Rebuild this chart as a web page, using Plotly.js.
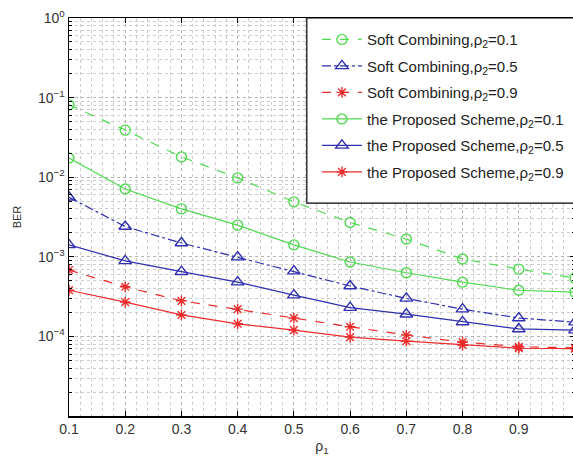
<!DOCTYPE html>
<html>
<head>
<meta charset="utf-8">
<script src="https://cdn.plot.ly/plotly-3.0.1.min.js"></script>
<style>
html,body{margin:0;padding:0;overflow:hidden;background:#fff;width:573px;height:462px;}
#chart{width:578px;height:462px;}
</style>
</head>
<body>
<div id="chart"></div>
<script>
const rho1 = [0.1, 0.2, 0.3, 0.4, 0.5, 0.6, 0.7, 0.8, 0.9, 1.0];
const softRho01 = [0.081, 0.039, 0.018, 0.0098, 0.0049, 0.0027, 0.00167, 0.00094, 0.00070, 0.00054];
const softRho05 = [0.0056, 0.0024, 0.00149, 0.00099, 0.00066, 0.00043, 0.00030, 0.00022, 0.00017, 0.000151];
const softRho09 = [0.00068, 0.00042, 0.00028, 0.00022, 0.000170, 0.000132, 0.000104, 0.000085, 0.000074, 0.000072];
const propRho01 = [0.0174, 0.0071, 0.0040, 0.0025, 0.00141, 0.00086, 0.00063, 0.00048, 0.00038, 0.00036];
const propRho05 = [0.00141, 0.00089, 0.00065, 0.00048, 0.00033, 0.00023, 0.00019, 0.000152, 0.000124, 0.000120];
const propRho09 = [0.00038, 0.00027, 0.000186, 0.000144, 0.000120, 0.000098, 0.000087, 0.000078, 0.000071, 0.000070];
const seriesNames = [
  'Soft Combining,ρ<sub>2</sub>=0.1',
  'Soft Combining,ρ<sub>2</sub>=0.5',
  'Soft Combining,ρ<sub>2</sub>=0.9',
  'the Proposed Scheme,ρ<sub>2</sub>=0.1',
  'the Proposed Scheme,ρ<sub>2</sub>=0.5',
  'the Proposed Scheme,ρ<sub>2</sub>=0.9'
];
const yTickVals = [1e-5, 1e-4, 1e-3, 1e-2, 1e-1, 1];
const yTickText = ['', '10<sup>−4</sup>', '10<sup>−3</sup>', '10<sup>−2</sup>', '10<sup>−1</sup>', '10<sup>0</sup>'];

const GREEN = '#4fd94f', BLUE = '#2f2fb0', RED = '#ee2b2b';
const ys = [softRho01, softRho05, softRho09, propRho01, propRho05, propRho09];
const colors = [GREEN, BLUE, RED, GREEN, BLUE, RED];
const dashes = ['dash', 'dashdot', 'dash', 'solid', 'solid', 'solid'];
const symbols = ['circle-open', 'triangle-up-open', 'asterisk-open', 'circle-open', 'triangle-up-open', 'asterisk-open'];
const sizes = [10, 11, 9, 10, 11, 9];

const traces = ys.map((y, i) => ({
  x: rho1, y: y, type: 'scatter', mode: 'lines+markers',
  name: seriesNames[i], legendgroup: 'g' + i,
  line: {color: colors[i], width: 1.2, dash: dashes[i]},
  marker: {symbol: symbols[i], size: sizes[i], color: colors[i], line: {color: colors[i], width: 1.4}}
}));

const layout = {
  width: 578, height: 462,
  margin: {l: 69, r: 3, t: 18, b: 46},
  paper_bgcolor: '#fff', plot_bgcolor: '#fff',
  font: {family: 'Liberation Sans, Arial, sans-serif', color: '#333'},
  showlegend: true,
  legend: {
    x: 0.49, xanchor: 'left', y: 0.987, yanchor: 'top',
    borderwidth: 0, bgcolor: 'rgba(0,0,0,0)',
    font: {size: 15, color: '#222'}, tracegroupgap: 4, itemwidth: 40
  },
  shapes: [{
    type: 'rect', xref: 'paper', yref: 'paper', layer: 'above',
    x0: 0.470, x1: 1.004, y0: 0.535, y1: 1.0,
    line: {color: '#000', width: 1.2}, fillcolor: '#fff'
  }],
  xaxis: {
    range: [0.1, 1.0], dtick: 0.1, tick0: 0.1,
    showline: true, linecolor: '#000', linewidth: 1.5, mirror: 'ticks',
    ticks: 'inside', ticklen: 5, tickcolor: '#000',
    showgrid: true, gridcolor: '#b4b4b4', griddash: 'dot', gridwidth: 1,
    tickfont: {size: 14, color: '#333'},
    zeroline: false,
    minor: {dtick: 0.02, showgrid: true, gridcolor: '#cdcdcd', griddash: 'dot', gridwidth: 1},
    title: {text: 'ρ<sub>1</sub>', font: {size: 14, color: '#333'}, standoff: 5}
  },
  yaxis: {
    type: 'log', range: [-5, 0],
    tickvals: yTickVals, ticktext: yTickText,
    showline: true, linecolor: '#000', linewidth: 1.5, mirror: 'ticks',
    ticks: 'inside', ticklen: 5, tickcolor: '#000',
    showgrid: true, gridcolor: '#b4b4b4', griddash: 'dot', gridwidth: 1,
    tickfont: {size: 14, color: '#333'},
    zeroline: false,
    minor: {dtick: 'D1', showgrid: true, gridcolor: '#cdcdcd', griddash: 'dot', gridwidth: 1, ticks: 'inside', ticklen: 3, tickcolor: '#000'},
    title: {text: 'BER', font: {size: 11, color: '#333'}, standoff: 14}
  }
};

Plotly.newPlot('chart', traces, layout, {staticPlot: true, displayModeBar: false});
</script>
</body>
</html>
